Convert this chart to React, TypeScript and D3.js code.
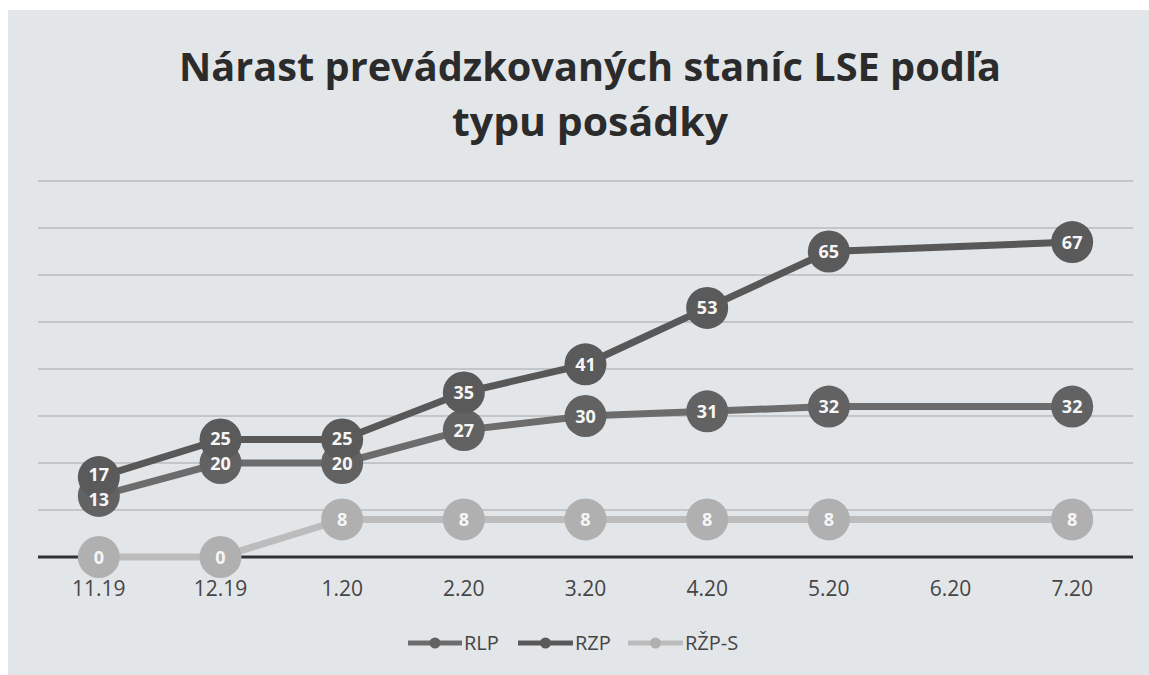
import React from "react";
import * as d3 from "d3";

// ---- data ----
const months = ["11.19", "12.19", "1.20", "2.20", "3.20", "4.20", "5.20", "6.20", "7.20"];
const rlp: (number | null)[] = [13, 20, 20, 27, 30, 31, 32, null, 32];
const rzp: (number | null)[] = [17, 25, 25, 35, 41, 53, 65, null, 67];
const rzpS: (number | null)[] = [0, 0, 8, 8, 8, 8, 8, null, 8];
const yTicks = [0, 10, 20, 30, 40, 50, 60, 70, 80];

const titleLines = ["Nárast prevádzkovaných staníc LSE podľa", "typu posádky"];

const series = [
  { name: "RLP", values: rlp, line: "#6c6c6c", dot: "#626262" },
  { name: "RZP", values: rzp, line: "#585858", dot: "#5a5a5a" },
  { name: "RŽP-S", values: rzpS, line: "#bcbcbc", dot: "#b0b0b0" },
];

const W = 1149;
const H = 675;
const FONT = "'Open Sans', 'Noto Sans', sans-serif";
const LABEL_GAP = 25; // min vertical distance between two labels in one month

type Pt = [string, number];

export default function App() {
  const x = d3.scaleBand().domain(months).range([38, 1133]);
  const y = d3.scaleLinear().domain([0, 80]).range([557, 181]);
  const cx = (m: string) => (x(m) ?? 0) + x.bandwidth() / 2;

  // empty months are skipped and the line joins the neighbours (as in the source)
  const lineGen = d3
    .line<Pt>()
    .x((d) => cx(d[0]))
    .y((d) => y(d[1]));

  const pts = (vals: (number | null)[]): Pt[] =>
    months.map((m, i) => [m, vals[i]] as [string, number | null]).filter((d) => d[1] != null) as Pt[];

  // label positions: push apart labels that sit too close in the same month
  const labels: { key: string; x: number; y: number; v: number }[] = [];
  months.forEach((m, i) => {
    const col = series
      .map((s) => ({ s, v: s.values[i] }))
      .filter((d) => d.v != null)
      .map((d) => ({ key: `${d.s.name}-${m}`, x: cx(m), y: y(d.v as number), v: d.v as number }))
      .sort((a, b) => a.y - b.y);
    for (let k = 1; k < col.length; k++) {
      const gap = col[k].y - col[k - 1].y;
      if (gap < LABEL_GAP) {
        const push = (LABEL_GAP - gap) / 2;
        col[k - 1].y -= push;
        col[k].y += push;
      }
    }
    labels.push(...col);
  });

  // legend layout (swatch start/end, label x)
  const legend = [
    { x0: 408, x1: 462, tx: 464 },
    { x0: 518, x1: 573, tx: 575 },
    { x0: 628, x1: 683, tx: 685 },
  ];

  return (
    <svg
      width={W}
      height={H}
      style={{ position: "absolute", left: 0, top: 0, display: "block" }}
    >
      <rect x={0} y={0} width={W} height={H} fill="#ffffff" />
      <rect x={8} y={10} width={W - 8} height={H - 10} fill="#e3e6e9" />

      {titleLines.map((t, i) => (
        <text
          key={t}
          x={590}
          y={81 + i * 55}
          textAnchor="middle"
          fontFamily={FONT}
          fontWeight={700}
          fontSize={40}
          fill="#2b2b2b"
          textLength={i === 0 ? 822 : 276}
          lengthAdjust="spacingAndGlyphs"
        >
          {t}
        </text>
      ))}

      {/* gridlines */}
      {yTicks.slice(1).map((t) => (
        <line key={t} x1={38} x2={1133} y1={y(t)} y2={y(t)} stroke="#a3a6a9" strokeWidth={1.2} />
      ))}

      {/* axis */}
      <line x1={38} x2={1133} y1={y(0)} y2={y(0)} stroke="#303030" strokeWidth={3} />
      {months.map((m) => (
        <text
          key={m}
          x={cx(m)}
          y={596}
          textAnchor="middle"
          fontFamily={FONT}
          fontSize={21}
          fill="#454545"
        >
          {m}
        </text>
      ))}

      {/* lines */}
      {series.map((s) => (
        <path
          key={s.name}
          d={lineGen(pts(s.values)) ?? ""}
          fill="none"
          stroke={s.line}
          strokeWidth={7}
        />
      ))}

      {/* markers */}
      {series.map((s) => (
        <g key={s.name}>
          {pts(s.values).map(([m, v]) => (
            <circle key={m} cx={cx(m)} cy={y(v)} r={21} fill={s.dot} />
          ))}
        </g>
      ))}

      {/* data labels on top of all markers */}
      {labels.map((l) => (
        <text
          key={l.key}
          x={l.x}
          y={l.y + 6.5}
          textAnchor="middle"
          fontFamily={FONT}
          fontWeight={700}
          fontSize={18}
          fill="#f6f6f6"
        >
          {l.v}
        </text>
      ))}

      {/* legend */}
      {series.map((s, i) => {
        const L = legend[i];
        return (
          <g key={s.name}>
            <line x1={L.x0} x2={L.x1} y1={643} y2={643} stroke={s.line} strokeWidth={5} />
            <circle cx={(L.x0 + L.x1) / 2} cy={643} r={5.5} fill={s.dot} />
            <text x={L.tx} y={650} fontFamily={FONT} fontSize={20} fill="#454545">
              {s.name}
            </text>
          </g>
        );
      })}
    </svg>
  );
}
